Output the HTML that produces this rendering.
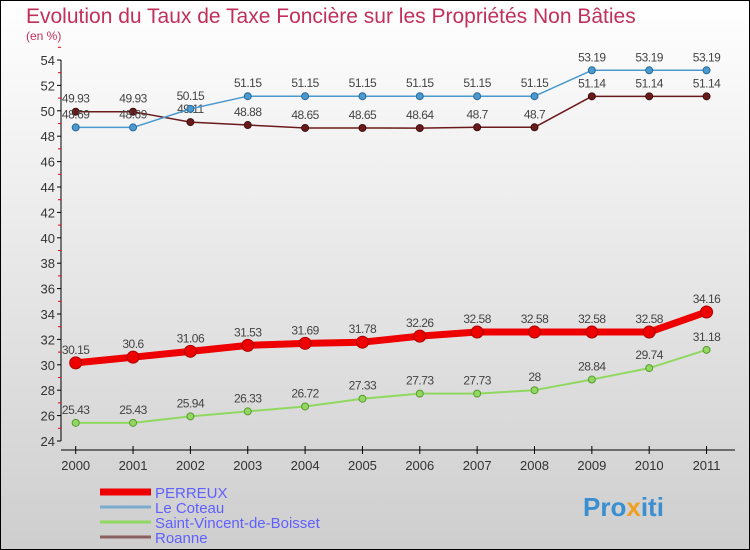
<!DOCTYPE html>
<html><head><meta charset="utf-8"><style>
body{margin:0;width:750px;height:550px;overflow:hidden;font-family:"Liberation Sans",sans-serif}
svg{display:block}
</style></head><body>
<svg id="chart" width="750" height="550">
<defs><linearGradient id="bg" x1="0" y1="0" x2="0" y2="1"><stop offset="0" stop-color="#ffffff"/><stop offset="1" stop-color="#cecece"/></linearGradient></defs>
<rect x="0.5" y="0.5" width="749" height="549" fill="url(#bg)" stroke="#000"/>
<text x="26" y="23" font-size="21" fill="#c0305a">Evolution du Taux de Taxe Foncière sur les Propriétés Non Bâties</text>
<text x="26" y="40" font-size="12" fill="#c0305a">(en %)</text>
<g id="axes"></g><g id="series"></g><g id="legend"></g>
<text x="583" y="516" font-size="26" font-weight="bold" fill="#3a8fd0">Pro<tspan fill="#f0a020">x</tspan>iti</text>
</svg>
<script>
const years=[2000,2001,2002,2003,2004,2005,2006,2007,2008,2009,2010,2011];
const perreux=[30.15,30.6,31.06,31.53,31.69,31.78,32.26,32.58,32.58,32.58,32.58,34.16];
const coteau=[48.69,48.69,50.15,51.15,51.15,51.15,51.15,51.15,51.15,53.19,53.19,53.19];
const stvincent=[25.43,25.43,25.94,26.33,26.72,27.33,27.73,27.73,28,28.84,29.74,31.18];
const roanne=[49.93,49.93,49.11,48.88,48.65,48.65,48.64,48.7,48.7,51.14,51.14,51.14];
const yTicks=[24,26,28,30,32,34,36,38,40,42,44,46,48,50,52,54];
const NS="http://www.w3.org/2000/svg";
const X=i=>75.7+i*57.35;
const Y=v=>441-(v-24)*12.7;
function mk(tag,attrs,parent,txt){const e=document.createElementNS(NS,tag);for(const k in attrs)e.setAttribute(k,attrs[k]);if(txt!==undefined)e.textContent=txt;parent.appendChild(e);return e;}
const ax=document.getElementById('axes');
let yl=mk('line',{x1:61,y1:Y(54),x2:61,y2:Y(24),stroke:'#000'},ax);


yTicks.forEach(t=>{
 mk('line',{x1:57,x2:61,y1:Y(t),y2:Y(t),stroke:'#000'},ax);
 mk('line',{x1:58,x2:61,y1:Y(t+1),y2:Y(t+1),stroke:'#e00'},ax);
 const tx=mk('text',{x:55,y:Y(t)+5,'font-size':13,fill:'#333','text-anchor':'end'},ax,t);
 
 
});
let xl=mk('line',{x1:61,y1:450,x2:735,y2:450,stroke:'#000'},ax);


years.forEach((y,i)=>{
 mk('line',{x1:X(i),x2:X(i),y1:446,y2:454,stroke:'#000'},ax);
 const tx=mk('text',{x:X(i),y:470,'font-size':13,fill:'#333','text-anchor':'middle'},ax,y);
 
 
});
const sg=document.getElementById('series');
function series(name,data,color,dark,w,r){
 const g=mk('g',{},sg);
 
 
 const pl=mk('polyline',{points:data.map((v,i)=>X(i)+','+Y(v)).join(' '),fill:'none',stroke:color,'stroke-width':w,'stroke-linejoin':'round'},g);
 
 
 data.forEach((v,i)=>{
  const c=mk('circle',{cx:X(i),cy:Y(v),r:r,fill:color,stroke:dark,'stroke-width':1},g);
  
  
  const t=mk('text',{x:X(i),y:Y(v)-9,'font-size':12,fill:'#444','text-anchor':'middle','letter-spacing':'-0.5'},g,v);
  
  
 });
}
series('saint-vincent',stvincent,'#90d860','#5a9a30',2,3.5);
series('roanne',roanne,'#6a1a1a','#401010',1.5,3.5);
series('le-coteau',coteau,'#4a9ad0','#2a6a9a',1.5,3.5);
series('perreux',perreux,'#ee0000','#aa0000',7,6);
const lg=document.getElementById('legend');
[['PERREUX','#ee0000',7],['Le Coteau','#7aaccf',3],['Saint-Vincent-de-Boisset','#90d860',3],['Roanne','#8a6060',3]].forEach((d,i)=>{
 const y=492+i*15;
 const l=mk('line',{x1:100,x2:151,y1:y,y2:y,stroke:d[1],'stroke-width':d[2]},lg);
 
 
 const t=mk('text',{x:155,y:y+6,'font-size':15,fill:'#6060ff'},lg,d[0]);
 
 
});
</script>
</body></html>
